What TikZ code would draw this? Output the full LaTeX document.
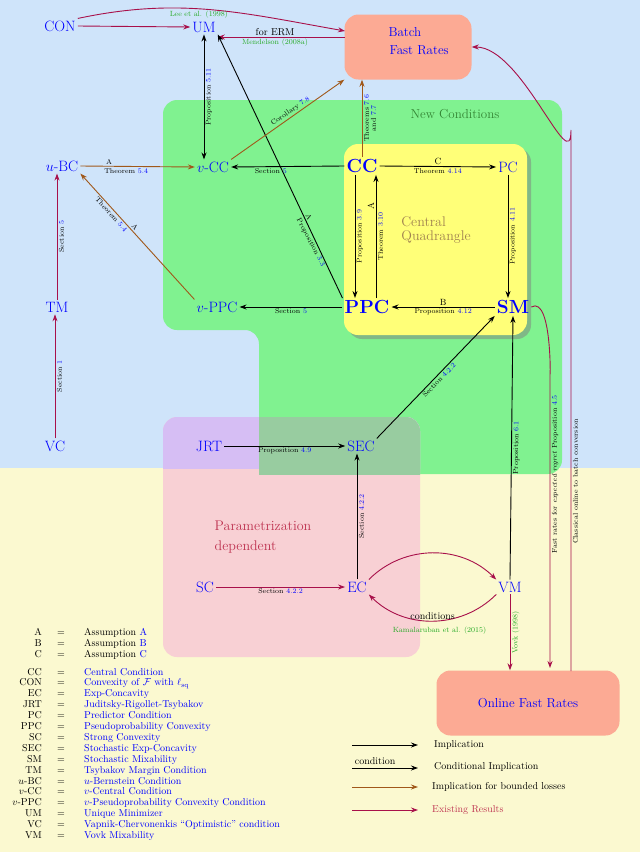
\documentclass[tikz,border=0pt]{standalone}
\usepackage{amsmath}
\usepackage{amssymb}
\usetikzlibrary{arrows.meta,shadows}
\definecolor{bgblue}{RGB}{207,228,250}
\definecolor{bgyellow}{RGB}{251,249,208}
\definecolor{ncgreen}{RGB}{128,242,144}
\definecolor{quad}{RGB}{255,255,120}
\definecolor{salmon}{RGB}{252,170,148}
\definecolor{pinkbox}{RGB}{248,208,212}
\definecolor{purplebox}{RGB}{214,190,244}
\definecolor{mixbox}{RGB}{152,204,160}
\definecolor{brn}{RGB}{160,88,26}
\definecolor{crim}{RGB}{168,16,74}
\definecolor{refgreen}{RGB}{40,170,40}
\definecolor{quadtext}{RGB}{160,130,80}
\definecolor{partext}{RGB}{190,50,80}
\newcommand\bl[1]{{\color{blue}#1}}
\begin{document}
\begin{tikzpicture}[x=1pt,y=-1pt,
  cond/.style={text=blue,font=\fontsize{15}{16}\selectfont,inner sep=2pt},
  big/.style={text=blue,font=\fontsize{19}{20}\selectfont\bfseries,inner sep=2pt},
  lab/.style={font=\fontsize{7}{8}\selectfont,inner sep=1.5pt},
  ref/.style={font=\fontsize{7.5}{8}\selectfont,text=refgreen,inner sep=1.5pt},
  imp/.style={draw=black,line width=0.9pt,-{Stealth[length=7pt,width=5pt]}},
  bnd/.style={draw=brn,line width=0.9pt,-{Stealth[length=7pt,width=5pt]}},
  ex/.style={draw=crim,line width=0.9pt,-{Stealth[length=7pt,width=5pt]}},
  rate/.style={fill=salmon,rounded corners=14pt,text=blue,font=\fontsize{13}{15}\selectfont},
  leg/.style={font=\fontsize{10}{11}\selectfont,inner sep=0pt}]
\useasboundingbox (0,0) rectangle (640,852);
% backgrounds
\fill[bgblue] (0,0) rectangle (640,468);
\fill[bgyellow] (0,468) rectangle (640,852);
\fill[ncgreen,rounded corners=14pt] (163,100) -- (562,100) -- (562,474) -- (259,474) -- (259,330) -- (163,330) -- cycle;
\fill[pinkbox,rounded corners=14pt] (163,417) rectangle (420,657);
\begin{scope}
  \clip (0,0) rectangle (640,468);
  \fill[purplebox,rounded corners=14pt] (163,417) rectangle (420,657);
\end{scope}
\begin{scope}
  \clip (259,0) rectangle (562,474);
  \fill[mixbox,rounded corners=14pt] (163,417) rectangle (420,657);
\end{scope}
\fill[quad,rounded corners=14pt,drop shadow={shadow xshift=4pt,shadow yshift=-4pt,opacity=0.5}] (344,144) rectangle (527,335);
\node[green!40!black!80,font=\fontsize{13}{14}\selectfont] (nc) at (455,114) {New Conditions};
\node[quadtext,align=left,font=\fontsize{14}{14}\selectfont] (cq) at (436,230) {Central\\Quadrangle};
\node[partext,align=left,font=\fontsize{14}{20}\selectfont] (pd) at (263,537) {Parametrization\\dependent};
% rate boxes
\node[rate,minimum width=127pt,minimum height=65pt] (Batch) at (408,47) {};
\node[text=blue,font=\fontsize{13}{15}\selectfont,anchor=west] (bt1) at (385,32) {Batch};
\node[text=blue,font=\fontsize{13}{15}\selectfont,anchor=west] (bt2) at (386,50) {Fast Rates};
\node[rate,minimum width=183pt,minimum height=65pt] (Online) at (528,703) {Online Fast Rates};
% condition nodes
\node[cond] (CON) at (60,26) {CON};
\node[cond] (UM) at (204,27) {UM};
\node[cond] (uBC) at (62,166) {$u$-BC};
\node[cond] (vCC) at (213,167) {$v$-CC};
\node[big] (CC) at (362,166) {CC};
\node[cond] (PC) at (508,167) {PC};
\node[cond] (TM) at (57,307) {TM};
\node[cond] (vPPC) at (217,307) {$v$-PPC};
\node[big] (PPC) at (367,307) {PPC};
\node[big] (SM) at (513,307) {SM};
\node[cond] (VC) at (55,446) {VC};
\node[cond] (JRT) at (209,446) {JRT};
\node[cond] (SEC) at (361,446) {SEC};
\node[cond] (SC) at (205,587) {SC};
\node[cond] (EC) at (357,587) {EC};
\node[cond] (VM) at (510,587) {VM};
\coordinate (o1) at (550,668);
\coordinate (c1) at (550,370);
\coordinate (o2) at (571,671);
\coordinate (b1) at (571,130);
\coordinate (bw) at (345,31);
\coordinate (bu) at (345,37);
% connectors
\draw[ex] (CON.east) -- (UM.west);
\draw[ex] (CON.north east) to[out=12,in=170] node[ref,pos=0.45,below]{Lee et al. (1998)} (bw);
\draw[ex] (bu) -- node[font=\fontsize{10}{11}\selectfont,above,inner sep=1pt,pos=0.55]{for ERM} node[ref,below,pos=0.55]{Mendelson (2008a)} (UM.east |- bu);
\draw[imp,{Stealth[length=7pt,width=5pt]}-{Stealth[length=7pt,width=5pt]}] (vCC.north -| UM) -- node[lab,sloped,below]{Proposition \bl{5.11}} (UM.south);
\draw[imp] (PPC.north west) -- node[lab,rotate=-62,anchor=south,pos=0.3]{A} node[lab,rotate=-62,anchor=north,pos=0.22]{Proposition \bl{3.3}} (UM.south east);
\draw[bnd] (vCC.north east) -- node[lab,sloped,above,pos=0.55]{Corollary \bl{7.8}} (Batch.south west);
\draw[bnd] (CC.north) -- node[lab,sloped,below,align=center,font=\fontsize{7}{7}\selectfont]{Theorems \bl{7.6}\\and \bl{7.7}} (CC.north |- Batch.south);
\draw[bnd] (uBC.east) -- node[lab,above,pos=0.25]{A} node[lab,below,pos=0.4]{Theorem \bl{5.4}} (vCC.west);
\draw[bnd] (vPPC.north west) -- node[lab,sloped,above,pos=0.55]{A} node[lab,sloped,below,pos=0.7]{Theorem \bl{5.4}} (uBC.south east);
\draw[imp] (CC.west) -- node[lab,below,pos=0.65]{Section \bl{5}} (vCC.east);
\draw[imp] (CC.east) -- node[lab,above,font=\fontsize{9}{9}\selectfont]{C} node[lab,below]{Theorem \bl{4.14}} (PC.west);
\draw[imp] ([xshift=-7pt]CC.south) -- node[lab,rotate=90,anchor=north]{Proposition \bl{3.9}} ([xshift=-12pt]PPC.north);
\draw[imp] ([xshift=9pt]PPC.north) -- node[lab,sloped,above,pos=0.75,font=\fontsize{9}{9}\selectfont]{A} node[lab,sloped,below]{Theorem \bl{3.10}} ([xshift=14pt]CC.south);
\draw[imp] (PC.south) -- node[lab,rotate=90,anchor=north]{Proposition \bl{4.11}} (PC.south |- SM.north);
\draw[imp] (SM.west) -- node[lab,above,font=\fontsize{9}{9}\selectfont]{B} node[lab,below]{Proposition \bl{4.12}} (PPC.east);
\draw[imp] (PPC.west) -- node[lab,below]{Section \bl{5}} (vPPC.east);
\draw[ex] (TM.north) -- node[lab,sloped,below]{Section \bl{5}} (uBC.south -| TM);
\draw[ex] (VC.north) -- node[lab,sloped,below]{Section \bl{1}} (TM.south -| VC);
\draw[imp] (JRT.east) -- node[lab,below]{Proposition \bl{4.9}} (SEC.west);
\draw[imp] (SEC.north east) -- node[lab,sloped,below]{Section \bl{4.2.2}} (SM.south west);
\draw[imp] (EC.north) -- node[lab,sloped,below]{Section \bl{4.2.2}} (SEC.south -| EC);
\draw[ex] (SC.east) -- node[lab,below]{Section \bl{4.2.2}} (EC.west);
\draw[ex] (EC.north east) to[out=45,in=135] (VM.north west);
\draw[ex] (VM.south west) to[out=-135,in=-45] node[font=\fontsize{10}{11}\selectfont,above,inner sep=1pt]{conditions} node[ref,below,pos=0.45,yshift=-4pt]{Kamalaruban et al. (2015)} (EC.south east);
\draw[imp] (VM.north) -- node[lab,sloped,below]{Proposition \bl{6.1}} (SM.south);
\draw[ex] (VM.south) -- node[ref,rotate=90,anchor=north]{Vovk (1998)} (VM.south |- Online.north);
\draw[ex] (SM.east) to[out=30,in=-90] (c1) -- node[lab,rotate=90,anchor=north,pos=0.35]{Fast rates for \textit{expected regret} Proposition \bl{4.5}} (o1);
\draw[ex] (o2) -- node[lab,sloped,below,pos=0.35]{Classical online to batch conversion} (b1) to[out=-90,in=0] (Batch.east);
% legend
\foreach \k/\t [count=\i] in {A/Assumption \bl{A},B/Assumption \bl{B},C/Assumption \bl{C}}{
  \node[leg,anchor=base east] (la\i) at (42,635+11*\i-11) {\k};
  \node[leg,anchor=base] (le\i) at (61,635+11*\i-11) {$=$};
  \node[leg,anchor=base west] (lt\i) at (84,635+11*\i-11) {\t};}
\foreach \k/\t [count=\i] in {CC/Central Condition,CON/Convexity of $\mathcal{F}$ with $\ell_{\mathrm{sq}}$,EC/Exp-Concavity,JRT/Juditsky-Rigollet-Tsybakov,PC/Predictor Condition,PPC/Pseudoprobability Convexity,SC/Strong Convexity,SEC/Stochastic Exp-Concavity,SM/Stochastic Mixability,TM/Tsybakov Margin Condition,$u$-BC/$u$-Bernstein Condition,$v$-CC/$v$-Central Condition,$v$-PPC/$v$-Pseudoprobability Convexity Condition,UM/Unique Minimizer,VC/Vapnik-Chervonenkis ``Optimistic'' condition,VM/Vovk Mixability}{
  \node[leg,anchor=base east] (lk\i) at (42,675+10.9*\i-10.9) {\k};
  \node[leg,anchor=base] (lq\i) at (61,675+10.9*\i-10.9) {$=$};
  \node[leg,anchor=base west,text=blue] (ld\i) at (84,675+10.9*\i-10.9) {\t};}
\coordinate (l1a) at (352,745); \coordinate (l1b) at (418,745);
\coordinate (l2a) at (352,768); \coordinate (l2b) at (418,768);
\coordinate (l3a) at (352,787); \coordinate (l3b) at (418,787);
\coordinate (l4a) at (352,810); \coordinate (l4b) at (418,810);
\draw[imp] (l1a) -- (l1b);
\draw[imp] (l2a) -- node[leg,above=3pt,pos=0.35]{condition} (l2b);
\draw[bnd] (l3a) -- (l3b);
\draw[ex] (l4a) -- (l4b);
\node[leg,anchor=west] (li1) at (434,745) {Implication};
\node[leg,anchor=west] (li2) at (434,767) {Conditional Implication};
\node[leg,anchor=west] (li3) at (432,787) {Implication for bounded losses};
\node[leg,anchor=west,text=partext] (li4) at (432,810) {Existing Results};
\end{tikzpicture}
\end{document}
